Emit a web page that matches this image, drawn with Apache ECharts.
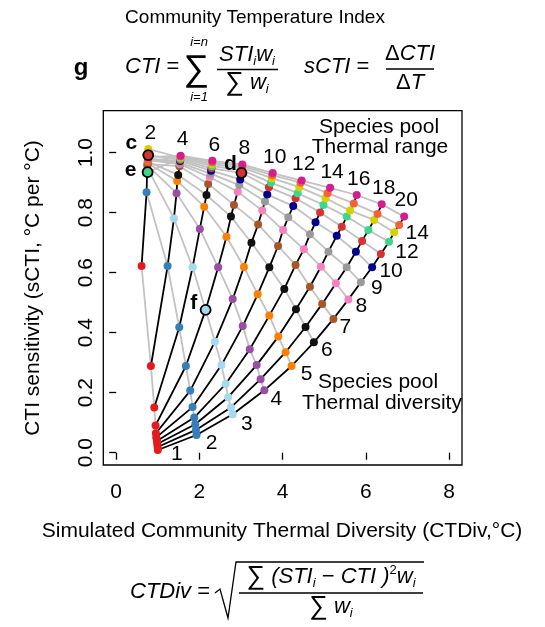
<!DOCTYPE html>
<html><head><meta charset="utf-8">
<script src="https://cdn.jsdelivr.net/npm/echarts@6/dist/echarts.min.js"></script>
<style>html,body{margin:0;padding:0;background:#fff}#c{width:545px;height:627px}</style>
</head><body><div id="c"></div>
<script>
// Species pool thermal range (one black line each)
const ranges = [2, 4, 6, 8, 10, 12, 14, 16, 18, 20];
// Species pool thermal diversity (one grey line / colour each); [CTDiv, sCTI] for ranges 2..20
const div1  = [[0.61,0.622],[0.834,0.289],[0.915,0.151],[0.946,0.091],[0.954,0.065],[0.962,0.051],[0.978,0.039],[0.986,0.029],[0.995,0.019],[1.0,0.009]];
const div2  = [[0.73,0.868],[1.235,0.622],[1.515,0.418],[1.675,0.289],[1.78,0.207],[1.835,0.152],[1.875,0.117],[1.90,0.095],[1.916,0.076],[1.93,0.059]];
const div3  = [[0.745,0.95],[1.387,0.781],[1.836,0.618],[2.149,0.476],[2.373,0.37],[2.53,0.292],[2.63,0.229],[2.69,0.185],[2.757,0.151],[2.80,0.128]];
const div4  = [[0.75,0.958],[1.45,0.865],[2.01,0.746],[2.45,0.618],[2.80,0.512],[3.04,0.422],[3.21,0.345],[3.375,0.292],[3.47,0.245],[3.56,0.208]];
const div5  = [[0.755,0.965],[1.466,0.906],[2.115,0.82],[2.65,0.72],[3.07,0.619],[3.40,0.528],[3.68,0.457],[3.895,0.387],[4.07,0.335],[4.215,0.289]];
const div6  = [[0.76,0.97],[1.49,0.926],[2.17,0.859],[2.757,0.787],[3.25,0.70],[3.68,0.618],[4.04,0.546],[4.32,0.478],[4.55,0.419],[4.75,0.368]];
const div7  = [[0.755,0.962],[1.52,0.955],[2.21,0.896],[2.83,0.826],[3.41,0.761],[3.89,0.689],[4.31,0.626],[4.656,0.553],[4.95,0.496],[5.22,0.446]];
const div8  = [[0.76,0.975],[1.525,0.962],[2.25,0.918],[2.92,0.87],[3.51,0.807],[4.01,0.742],[4.51,0.678],[4.92,0.62],[5.28,0.565],[5.58,0.511]];
const div9  = [[0.765,0.978],[1.53,0.966],[2.27,0.93],[2.957,0.892],[3.575,0.837],[4.135,0.785],[4.656,0.728],[5.10,0.67],[5.54,0.618],[5.88,0.568]];
const div10 = [[0.765,0.98],[1.535,0.972],[2.28,0.94],[2.98,0.911],[3.63,0.861],[4.255,0.822],[4.79,0.768],[5.30,0.723],[5.76,0.67],[6.15,0.618]];
const div11 = [[0.77,0.992],[1.54,0.976],[2.29,0.948],[3.01,0.933],[3.67,0.885],[4.31,0.848],[4.90,0.801],[5.42,0.753],[5.91,0.706],[6.36,0.662]];
const div12 = [[0.755,0.935],[1.54,0.98],[2.30,0.955],[3.02,0.942],[3.72,0.90],[4.36,0.865],[4.98,0.826],[5.54,0.787],[6.06,0.742],[6.555,0.703]];
const div13 = [[0.77,1.012],[1.545,0.984],[2.30,0.962],[3.025,0.95],[3.74,0.915],[4.40,0.885],[5.03,0.848],[5.62,0.807],[6.20,0.776],[6.68,0.735]];
const div14 = [[0.765,0.97],[1.545,0.987],[2.31,0.968],[3.03,0.956],[3.75,0.925],[4.43,0.90],[5.08,0.865],[5.71,0.831],[6.28,0.796],[6.80,0.759]];
const div15 = [[0.77,0.985],[1.548,0.99],[2.31,0.973],[3.03,0.961],[3.76,0.932],[4.457,0.907],[5.14,0.883],[5.78,0.859],[6.38,0.828],[6.92,0.787]];
const diversityLabels = ['1','2','3','4','5','6','7','8','9','10','','12','','14',''];
const xTicks = [0, 2, 4, 6, 8];
const yTicks = [0, 0.2, 0.4, 0.6, 0.8, 1.0];

const divs = [div1,div2,div3,div4,div5,div6,div7,div8,div9,div10,div11,div12,div13,div14,div15];
const colors = ['#E41A1C','#377EB8','#A6D8F0','#984EA3','#FF7F00','#111111','#A65628','#F781BF','#999999','#00008B','#D73232','#3DD68C','#D2D200','#F4623A','#D41E8E'];
const divLabelOffsets = [[19,4],[15,8],[14,10],[12,9],[15,8],[13,8],[12,8],[13,7],[16,6],[19,4],[0,0],[18,10],[0,0],[18,8],[0,0]];
const FONT = '"Liberation Sans", Arial, sans-serif';

const series = [];
divs.forEach(d => series.push({type:'line', data:d, symbol:'none', silent:true, z:1,
  lineStyle:{color:'#c2c2c2', width:1.8}, emphasis:{disabled:true}}));
ranges.forEach((r, ri) => series.push({type:'line', data:divs.map(d => d[ri]), symbol:'none', silent:true, z:2,
  lineStyle:{color:'#000', width:1.8}, emphasis:{disabled:true}}));
divs.forEach((d, i) => series.push({type:'scatter', data:d, symbolSize:8, silent:true, z:3,
  itemStyle:{color:colors[i], opacity:1}}));
// highlighted communities c, e, d, f
series.push({type:'scatter', symbolSize:10, silent:true, z:4,
  itemStyle:{borderColor:'#000', borderWidth:1.8, opacity:1},
  label:{show:true, position:'inside', fontSize:21, fontWeight:'bold', color:'#000', fontFamily:FONT},
  data:[
    {value:div11[0], itemStyle:{color:colors[10]}, label:{formatter:'c', offset:[-17,-12]}},
    {value:div12[0], itemStyle:{color:colors[11]}, label:{formatter:'e', offset:[-17,-2]}},
    {value:div11[3], itemStyle:{color:colors[10]}, label:{formatter:'d', offset:[-11,-9]}},
    {value:div3[3],  itemStyle:{color:colors[2]},  label:{formatter:'f', offset:[-12,-7]}}
  ]});
// thermal range labels above top point of each black line
const topPts = ranges.map((r, ri) => divs.map(d => d[ri]).reduce((a, b) => b[1] > a[1] ? b : a));
series.push({type:'scatter', symbolSize:1, silent:true, z:5, itemStyle:{color:'rgba(0,0,0,0)', opacity:1},
  label:{show:true, position:'inside', offset:[2,-16], fontSize:21, color:'#000', opacity:1, fontFamily:FONT,
    formatter:p => String(ranges[p.dataIndex])},
  data:topPts});
// thermal diversity labels at end of grey lines
series.push({type:'scatter', symbolSize:1, silent:true, z:5, itemStyle:{color:'rgba(0,0,0,0)', opacity:1},
  label:{show:true, position:'inside', fontSize:21, color:'#000', opacity:1, fontFamily:FONT},
  data:divs.map((d, i) => ({value:d[d.length-1], label:{formatter:diversityLabels[i], offset:divLabelOffsets[i]}}))
});

const it = 'italic 22px ' + FONT;
const rich = {
  a:{font:it, fill:'#000', lineHeight:26},
  u:{font:'22px ' + FONT, fill:'#000', lineHeight:26},
  b:{font:'italic 13px ' + FONT, fill:'#000', lineHeight:13, verticalAlign:'bottom'},
  p:{font:'13px ' + FONT, fill:'#000', lineHeight:13, verticalAlign:'top'},
  s:{font:'26px ' + FONT, fill:'#000', lineHeight:26}
};
const graphic = [
  {type:'text', x:255, y:18, style:{text:'Community Temperature Index', font:'19px ' + FONT, align:'center', verticalAlign:'middle', fill:'#000'}},
  {type:'text', x:81, y:68, style:{text:'g', font:'bold 24px ' + FONT, align:'center', verticalAlign:'middle', fill:'#000'}},
  {type:'text', x:125, y:67, style:{text:'{a|CTI}{u| =}', rich:rich, align:'left', verticalAlign:'middle'}},
  {type:'text', x:196, y:70, style:{text:'∑', font:'36px ' + FONT, align:'center', verticalAlign:'middle', fill:'#000'}},
  {type:'text', x:199, y:42, style:{text:'i=n', font:'italic 13px ' + FONT, align:'center', verticalAlign:'middle', fill:'#000'}},
  {type:'text', x:199, y:97, style:{text:'i=1', font:'italic 13px ' + FONT, align:'center', verticalAlign:'middle', fill:'#000'}},
  {type:'text', x:247, y:55, style:{text:'{a|STI}{b|i}{a|w}{b|i}', rich:rich, align:'center', verticalAlign:'middle'}},
  {type:'line', shape:{x1:217, y1:69.5, x2:278, y2:69.5}, style:{stroke:'#000', lineWidth:1.3}},
  {type:'text', x:247, y:83, style:{text:'{s|∑}{a| w}{b|i}', rich:rich, align:'center', verticalAlign:'middle'}},
  {type:'text', x:304, y:67, style:{text:'{a|sCTI}{u| =}', rich:rich, align:'left', verticalAlign:'middle'}},
  {type:'text', x:410, y:54, style:{text:'{u|Δ}{a|CTI}', rich:rich, align:'center', verticalAlign:'middle'}},
  {type:'line', shape:{x1:386, y1:69, x2:434, y2:69}, style:{stroke:'#000', lineWidth:1.3}},
  {type:'text', x:410, y:83, style:{text:'{u|Δ}{a|T}', rich:rich, align:'center', verticalAlign:'middle'}},
  {type:'text', x:379, y:127, style:{text:'Species pool', font:'21px ' + FONT, align:'center', verticalAlign:'middle', fill:'#000'}},
  {type:'text', x:380, y:147, style:{text:'Thermal range', font:'21px ' + FONT, align:'center', verticalAlign:'middle', fill:'#000'}},
  {type:'text', x:378, y:382, style:{text:'Species pool', font:'21px ' + FONT, align:'center', verticalAlign:'middle', fill:'#000'}},
  {type:'text', x:382, y:403, style:{text:'Thermal diversity', font:'21px ' + FONT, align:'center', verticalAlign:'middle', fill:'#000'}},
  {type:'text', x:282, y:531, style:{text:'Simulated Community Thermal Diversity (CTDiv,°C)', font:'21px ' + FONT, align:'center', verticalAlign:'middle', fill:'#000'}},
  {type:'text', x:33, y:288, rotation:Math.PI/2, style:{text:'CTI sensitivity (sCTI, °C per °C)', font:'21px ' + FONT, align:'center', verticalAlign:'middle', fill:'#000'}},
  {type:'text', x:130, y:592, style:{text:'{a|CTDiv}{u| =}', rich:rich, align:'left', verticalAlign:'middle'}},
  {type:'polyline', shape:{points:[[215,593],[220,589],[228,618],[236,562],[424,562]]}, style:{stroke:'#000', lineWidth:1.3, fill:null}},
  {type:'text', x:331, y:577, style:{text:'{s|∑}{a| (STI}{b|i}{u| − }{a|CTI )}{p|2}{a|w}{b|i}', rich:rich, align:'center', verticalAlign:'middle'}},
  {type:'line', shape:{x1:239, y1:593, x2:423, y2:593}, style:{stroke:'#000', lineWidth:1.3}},
  {type:'text', x:331, y:607, style:{text:'{s|∑}{a| w}{b|i}', rich:rich, align:'center', verticalAlign:'middle'}}
];

const chart = echarts.init(document.getElementById('c'), null, {renderer:'canvas', width:545, height:627});
chart.setOption({
  animation:false,
  backgroundColor:'#fff',
  textStyle:{fontFamily:FONT},
  grid:{left:103.3, top:110.7, width:358.7, height:354.3, show:true, borderColor:'#000', borderWidth:1.3, backgroundColor:'rgba(0,0,0,0)'},
  xAxis:{type:'value', min:-0.31, max:8.31,
    axisLine:{show:false}, splitLine:{show:false},
    axisTick:{show:true, customValues:xTicks, length:7, lineStyle:{color:'#000', width:1.3}},
    axisLabel:{customValues:xTicks, fontSize:21, color:'#000', margin:17, fontFamily:FONT}},
  yAxis:{type:'value', min:-0.041, max:1.14,
    axisLine:{show:false}, splitLine:{show:false},
    axisTick:{show:true, customValues:yTicks, length:7, lineStyle:{color:'#000', width:1.3}},
    axisLabel:{customValues:yTicks, rotate:90, fontSize:21, color:'#000', margin:7, fontFamily:FONT,
      formatter:v => v.toFixed(1)}},
  series:series,
  graphic:graphic
});
</script></body></html>
